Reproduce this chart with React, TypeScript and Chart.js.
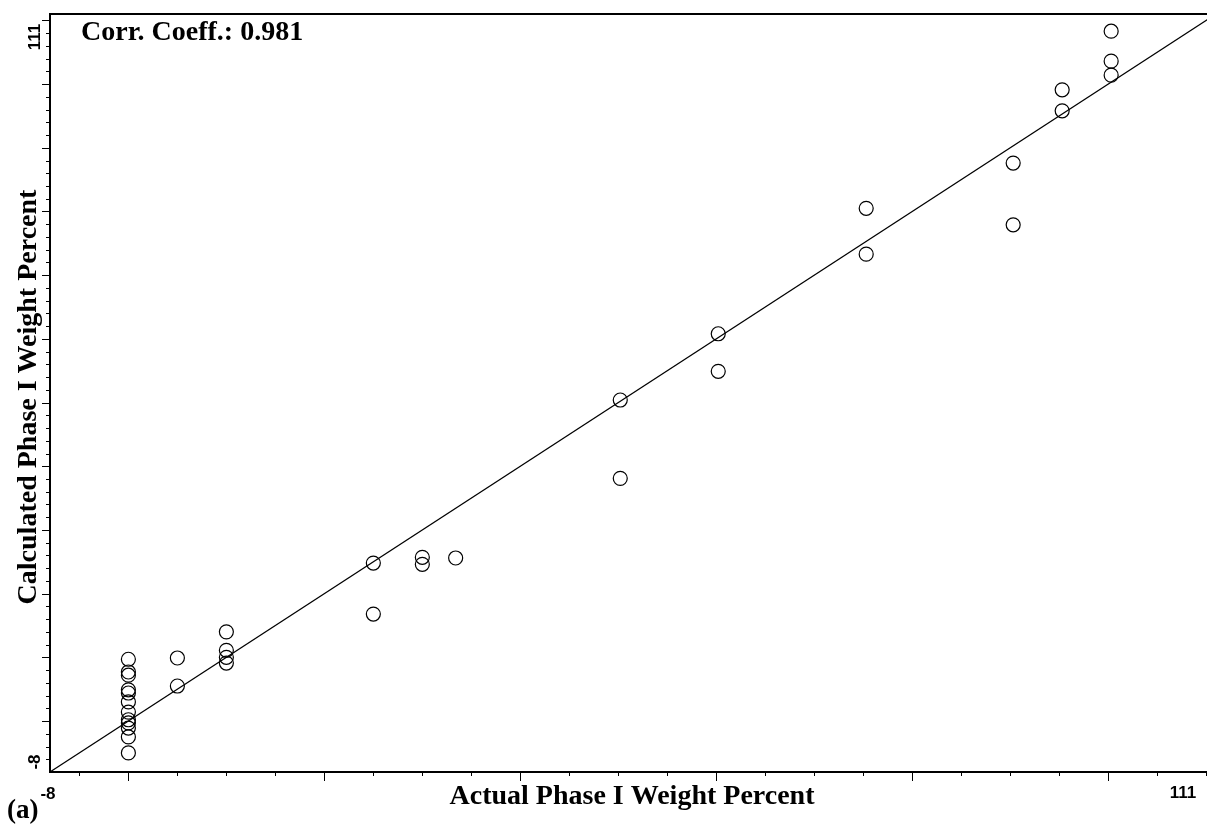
import React, { useEffect, useRef } from "react";
import { Chart, registerables } from "chart.js";

Chart.register(...registerables);

// ---- data ----
const actualX: number[] = [
  0, 0, 0, 0, 0, 0, 0, 0, 0, 0, 0, 0,
  5, 5,
  10, 10, 10, 10,
  25, 25,
  30, 30,
  33.4,
  50.2, 50.2,
  60.2, 60.2,
  75.3, 75.3,
  90.3, 90.3,
  95.3, 95.3,
  100.3, 100.3, 100.3,
];
const calculatedY: number[] = [
  9.7, 7.7, 7.2, 4.9, 4.4, 3.0, 1.4, 0.2, -0.3, -1.1, -2.5, -5.0,
  9.9, 5.5,
  14.0, 11.1, 10.0, 9.1,
  24.8, 16.8,
  25.7, 24.6,
  25.6,
  50.4, 38.1,
  60.8, 54.9,
  80.5, 73.3,
  87.6, 77.9,
  99.1, 95.8,
  108.3, 103.6, 101.4,
];
const axisMin = -8;
const axisMax = 111;
const axisEndLabels: string[] = ["-8", "111"];
const xMinorStep = 5;
const xMajorStep = 20;
const yMinorStep = 2;
const yMajorStep = 10;
const corrText = "Corr. Coeff.: 0.981";
const xTitle = "Actual Phase I Weight Percent";
const yTitle = "Calculated Phase I Weight Percent";
const panelLabel = "(a)";

const SERIF = '"Liberation Serif", "Times New Roman", serif';
const SANS = '"Liberation Sans", Arial, sans-serif';

const decorPlugin = {
  id: "decor",
  afterDraw(chart: any) {
    const ctx = chart.ctx as CanvasRenderingContext2D;
    const xs = chart.scales.x;
    const ys = chart.scales.y;
    const area = chart.chartArea;
    ctx.save();
    ctx.strokeStyle = "#000";
    ctx.fillStyle = "#000";

    // frame
    ctx.lineWidth = 2;
    ctx.beginPath();
    ctx.moveTo(area.right, area.top);
    ctx.lineTo(area.left, area.top);
    ctx.lineTo(area.left, area.bottom);
    ctx.lineTo(area.right, area.bottom);
    ctx.stroke();

    // x ticks
    ctx.lineWidth = 1;
    ctx.beginPath();
    for (let v = Math.ceil(axisMin / xMinorStep) * xMinorStep; v <= axisMax; v += xMinorStep) {
      if (v <= axisMin) continue;
      const px = Math.round(xs.getPixelForValue(v)) + 0.5;
      const len = v % xMajorStep === 0 ? 9 : 4;
      ctx.moveTo(px, area.bottom);
      ctx.lineTo(px, area.bottom + len);
    }
    // y ticks
    for (let v = Math.ceil(axisMin / yMinorStep) * yMinorStep; v <= axisMax; v += yMinorStep) {
      if (v <= axisMin) continue;
      const py = Math.round(ys.getPixelForValue(v)) + 0.5;
      const len = v % yMajorStep === 0 ? 8 : 4;
      ctx.moveTo(area.left, py);
      ctx.lineTo(area.left - len, py);
    }
    ctx.stroke();

    // x end labels
    ctx.font = "bold 17px " + SANS;
    ctx.textBaseline = "alphabetic";
    ctx.textAlign = "center";
    ctx.fillText(axisEndLabels[0], xs.getPixelForValue(axisMin) - 2, 799);
    ctx.fillText(axisEndLabels[1], 1183, 798);

    // y end labels (rotated)
    const rot = (text: string, x: number, y: number) => {
      ctx.save();
      ctx.translate(x, y);
      ctx.rotate(-Math.PI / 2);
      ctx.fillText(text, 0, 0);
      ctx.restore();
    };
    rot(axisEndLabels[0], 40, ys.getPixelForValue(axisMin) - 10);
    rot(axisEndLabels[1], 40, 37);

    // titles
    ctx.font = "bold 28px " + SERIF;
    ctx.textAlign = "center";
    ctx.fillText(xTitle, 632, 804);
    rot(yTitle, 36, 397);

    // corr text
    ctx.font = "bold 28px " + SERIF;
    ctx.textAlign = "left";
    ctx.fillText(corrText, 81, 40);

    // panel label
    ctx.font = "bold 27px " + SERIF;
    ctx.textAlign = "left";
    ctx.fillText(panelLabel, 7, 818);

    ctx.restore();
  },
};

export default function App() {
  const ref = useRef<HTMLCanvasElement | null>(null);
  useEffect(() => {
    document.body.style.margin = "0";
    document.body.style.overflow = "hidden";
    const canvas = ref.current;
    if (!canvas) return;
    const points = actualX.map((x, i) => ({ x, y: calculatedY[i] }));
    const chart = new Chart(canvas, {
      type: "scatter",
      data: {
        datasets: [
          {
            type: "line",
            data: [
              { x: axisMin, y: axisMin },
              { x: axisMax, y: axisMax },
            ],
            borderColor: "#000",
            borderWidth: 1.2,
            pointRadius: 0,
            fill: false,
          } as any,
          {
            data: points,
            pointStyle: "circle",
            pointRadius: 7,
            pointBorderWidth: 1.2,
            borderColor: "#000",
            backgroundColor: "rgba(0,0,0,0)",
            pointBackgroundColor: "rgba(0,0,0,0)",
            pointBorderColor: "#000",
          } as any,
        ],
      },
      options: {
        responsive: false,
        animation: false,
        devicePixelRatio: 1,
        layout: { padding: { left: 50, top: 14, right: 14, bottom: 55 } },
        plugins: {
          legend: { display: false },
          tooltip: { enabled: false },
          title: { display: false },
        },
        scales: {
          x: { type: "linear", min: axisMin, max: axisMax, display: false },
          y: { type: "linear", min: axisMin, max: axisMax, display: false },
        },
      },
      plugins: [decorPlugin],
    });
    return () => chart.destroy();
  }, []);
  return (
    <div
      style={{
        position: "fixed",
        left: 0,
        top: 0,
        width: 1207,
        height: 827,
        overflow: "hidden",
        background: "#fff",
      }}
    >
      <canvas ref={ref} width={1230} height={827} style={{ width: 1230, height: 827, display: "block" }} />
    </div>
  );
}
